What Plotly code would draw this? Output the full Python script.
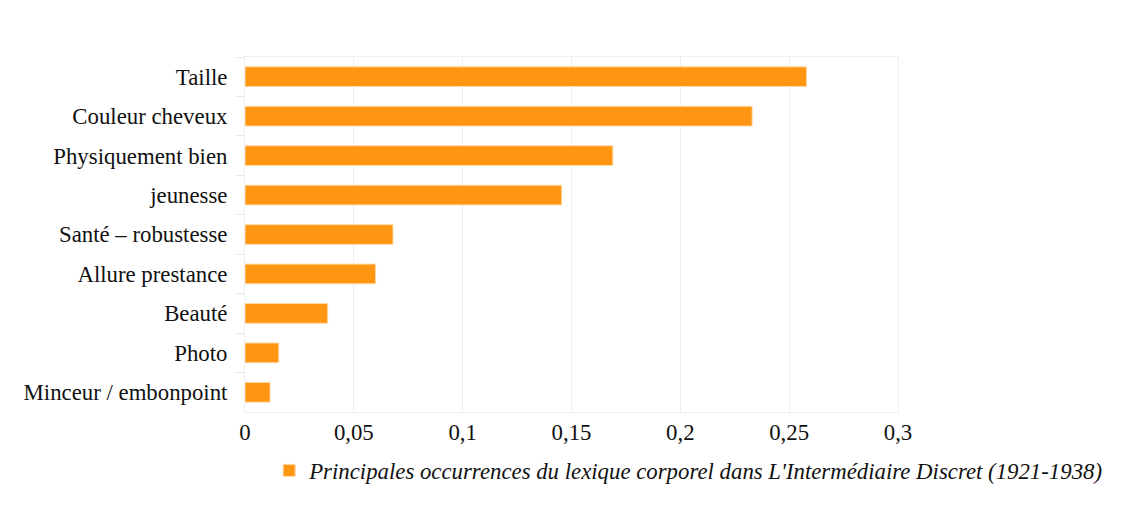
import plotly.graph_objects as go

categories = ["Taille", "Couleur cheveux", "Physiquement bien", "jeunesse",
              "Santé – robustesse", "Allure prestance", "Beauté", "Photo",
              "Minceur / embonpoint"]
values = [0.258, 0.233, 0.169, 0.1455, 0.068, 0.060, 0.038, 0.0155, 0.0115]
series_name = "Principales occurrences du lexique corporel dans L'Intermédiaire Discret (1921-1938)"
tick_vals = [0, 0.05, 0.1, 0.15, 0.2, 0.25, 0.3]
tick_text = ["0", "0,05", "0,1", "0,15", "0,2", "0,25", "0,3"]

fig = go.Figure(go.Bar(
    x=values, y=categories, orientation="h", name=series_name,
    marker=dict(color="#FF9611", line=dict(color="#FFD9A8", width=1)),
    showlegend=True,
))

fig.update_layout(
    width=1131, height=506,
    margin=dict(l=237, r=241, t=49, b=102),
    paper_bgcolor="white", plot_bgcolor="white",
    font=dict(family="Liberation Serif", size=22.8, color="#111111"),
    bargap=0.5,
    showlegend=True,
    legend=dict(orientation="h", x=0.037, xanchor="left", y=-0.165, yanchor="middle",
                font=dict(family="Liberation Serif", size=22.8, style="italic", color="#111111"),
                itemwidth=30, bgcolor="rgba(0,0,0,0)"),
    xaxis=dict(range=[0, 0.3], tickvals=tick_vals, ticktext=tick_text,
               showgrid=True, gridcolor="#efefef", gridwidth=1,
               zeroline=False, showline=True, linecolor="#efefef", mirror=True,
               ticks="", ticklabelstandoff=0),
    yaxis=dict(autorange="reversed", categoryorder="array", categoryarray=categories,
               tickson="boundaries", ticks="outside", ticklen=8, tickcolor="#e6e6e6",
               showgrid=False, showline=True, linecolor="#efefef", mirror=True,
               ticklabelstandoff=12),
)

fig.write_html("out.html")
